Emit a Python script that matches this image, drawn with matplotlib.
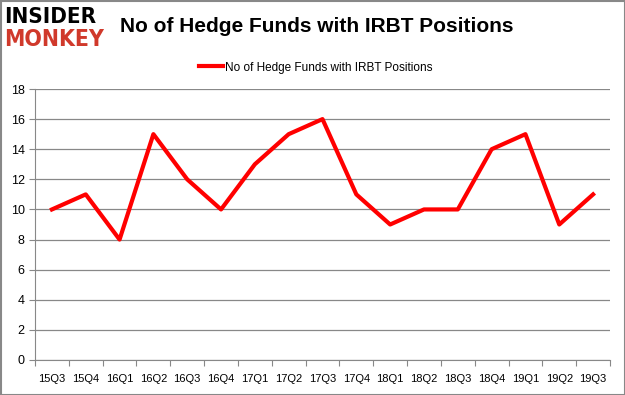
import matplotlib
matplotlib.use("Agg")
import matplotlib.pyplot as plt
from matplotlib.patches import Rectangle

quarters = ['15Q3', '15Q4', '16Q1', '16Q2', '16Q3', '16Q4', '17Q1', '17Q2', '17Q3',
            '17Q4', '18Q1', '18Q2', '18Q3', '18Q4', '19Q1', '19Q2', '19Q3']
funds = [10, 11, 8, 15, 12, 10, 13, 15, 16, 11, 9, 10, 10, 14, 15, 9, 11]
series_name = 'No of Hedge Funds with IRBT Positions'
y_ticks = list(range(0, 20, 2))

plt.rcParams['font.family'] = ['Liberation Sans', 'DejaVu Sans']

W, H = 625, 395
fig = plt.figure(figsize=(W / 100, H / 100), dpi=100)
ax = fig.add_axes([35 / W, 1 - 360 / H, 575 / W, 271 / H])

x = list(range(len(quarters)))
ax.plot(x, funds, color='#ff0000', linewidth=3, label=series_name)
ax.set_xlim(-0.5, len(quarters) - 0.5)
ax.set_ylim(0, 18)
ax.set_yticks(y_ticks)
ax.set_xticks([i - 0.5 for i in range(len(quarters) + 1)], minor=False)
ax.set_xticklabels([])
ax.set_xticks(x, minor=True)
ax.set_xticklabels(quarters, minor=True)
ax.tick_params(axis='x', which='minor', length=0, pad=10, labelsize=8)
ax.tick_params(axis='x', which='major', length=4, color='#888888')
ax.tick_params(axis='y', length=4, color='#888888', labelsize=9)
ax.grid(axis='y', color='#888888', linewidth=0.9)
ax.set_axisbelow(True)
for s in ['top', 'right']:
    ax.spines[s].set_visible(False)
for s in ['left', 'bottom']:
    ax.spines[s].set_color('#888888')

fig.text(120 / W, 1 - 26 / H, 'No of Hedge Funds with IRBT Positions',
         fontsize=15, fontweight='bold', va='center', ha='left')
fig.text(4 / W, 1 - 17 / H, 'INSIDER', fontsize=16, fontweight='bold',
         color='black', va='center', ha='left', family='DejaVu Sans', stretch='condensed')
fig.text(4 / W, 1 - 40 / H, 'MONKEY', fontsize=16.5, fontweight='bold',
         color='#d0392b', va='center', ha='left', family='DejaVu Sans', stretch='condensed')

leg = ax.legend(loc='upper center', frameon=False, fontsize=8.5,
                handlelength=2.0, handletextpad=0.2)
leg.set_bbox_to_anchor((0.505, 1 - 51 / H), transform=fig.transFigure)

fig.patches.append(Rectangle((0.5 / W, 0.5 / H), 1 - 1 / W, 1 - 1 / H, transform=fig.transFigure,
                             fill=False, edgecolor='#888888', linewidth=1.5))
fig.savefig('out.png', dpi=100)
